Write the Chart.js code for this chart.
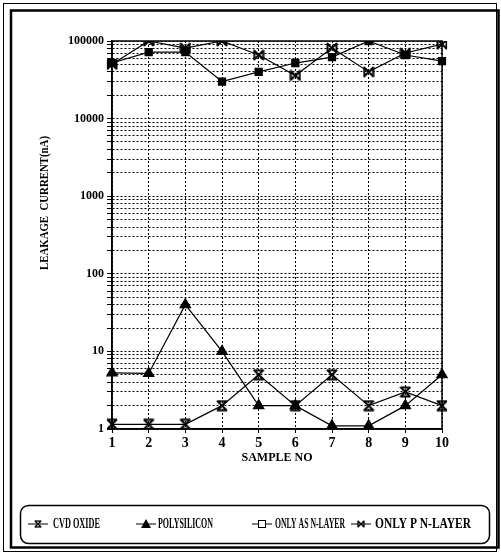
<!DOCTYPE html>
<html>
<head>
<meta charset="utf-8">
<script src="https://cdn.jsdelivr.net/npm/chart.js@4/dist/chart.umd.min.js"></script>
<style>
html,body{margin:0;padding:0;background:#fff;}
#wrap{position:relative;width:501px;height:553px;}
</style>
</head>
<body>
<div id="wrap"><canvas id="c" width="501" height="553"></canvas></div>
<script>
// ---- data ----
const categories = ['1','2','3','4','5','6','7','8','9','10'];
const seriesNames = ['CVD OXIDE','POLYSILICON','ONLY AS N-LAYER','ONLY P N-LAYER'];
const cvdOxide    = [1.15, 1.15, 1.15, 2, 5, 2, 5, 2, 3, 2];
const polysilicon = [5.3, 5.2, 40, 10, 2, 2, 1.1, 1.1, 2, 5];
const onlyAsN     = [52000, 72000, 72000, 30000, 40000, 52000, 62000, 100000, 66000, 55000];
const onlyPN      = [50000, 100000, 81000, 100000, 66000, 36000, 81000, 40000, 70000, 91000];
const yTickValues = [1,10,100,1000,10000,100000];
const yTitle = 'LEAKAGE  CURRENT(nA)';
const xTitle = 'SAMPLE NO';

const FONT = '"Liberation Serif", "DejaVu Serif", serif';

function makeMarker(kind, size){
  const c = document.createElement('canvas');
  c.width = size; c.height = size;
  const g = c.getContext('2d');
  g.strokeStyle = '#000'; g.fillStyle = '#000'; g.lineWidth = 2;
  const s = size, m = 1;
  if (kind === 'hourglass') {
    g.beginPath();
    g.moveTo(m, m); g.lineTo(s-m, s-m);
    g.moveTo(s-m, m); g.lineTo(m, s-m);
    g.moveTo(m, m+0.5); g.lineTo(s-m, m+0.5);
    g.moveTo(m, s-m-0.5); g.lineTo(s-m, s-m-0.5);
    g.stroke();
  } else if (kind === 'bowtie') {
    g.beginPath();
    g.moveTo(m, m); g.lineTo(s-m, s-m);
    g.moveTo(s-m, m); g.lineTo(m, s-m);
    g.moveTo(m+0.5, m); g.lineTo(m+0.5, s-m);
    g.moveTo(s-m-0.5, m); g.lineTo(s-m-0.5, s-m);
    g.stroke();
  }
  return c;
}
const mkCvd = makeMarker('hourglass', 12);
const mkP = makeMarker('bowtie', 12);

function fitText(g, text, x, y, w){
  const nat = g.measureText(text).width;
  const k = w / nat;
  g.save();
  g.translate(x, y);
  g.scale(k, 1);
  g.fillText(text, 0, 0);
  g.restore();
}

const framePlugin = {
  id: 'frame',
  beforeDraw(chart){
    const g = chart.ctx;
    g.save();
    g.fillStyle = '#fff';
    g.fillRect(0,0,chart.width,chart.height);
    g.strokeStyle = '#000';
    g.lineWidth = 1;
    g.strokeRect(3.5, 3.5, 493, 548);
    g.lineWidth = 2.5;
    g.strokeRect(11, 10.5, 487.5, 537);
    g.restore();
  },
  afterDraw(chart){
    const g = chart.ctx;
    const a = chart.chartArea;
    g.save();
    g.strokeStyle = '#000';
    g.lineWidth = 1.5;
    g.strokeRect(a.left, a.top, a.right - a.left, a.bottom - a.top);
    // y-axis title
    g.translate(45, 203);
    g.rotate(-Math.PI/2);
    g.font = 'bold 13px ' + FONT;
    g.fillStyle = '#000';
    g.textAlign = 'center';
    g.textBaseline = 'middle';
    g.fillText(yTitle, 0, 0, 134);
    g.restore();

    // legend
    g.save();
    g.strokeStyle = '#000';
    g.lineWidth = 1.5;
    g.beginPath();
    g.roundRect(20.5, 505.5, 469, 38, 8);
    g.stroke();
    const ly = 524;
    const items = [
      {x0: 28, tx: 53, w: 47},
      {x0: 136, tx: 158, w: 55},
      {x0: 252, tx: 275, w: 70},
      {x0: 351, tx: 375, w: 96}
    ];
    g.font = 'bold 14px ' + FONT;
    g.textBaseline = 'middle';
    g.textAlign = 'left';
    g.fillStyle = '#000';
    chart.data.datasets.forEach((ds, i) => {
      const it = items[i];
      const cx = it.x0 + 10;
      g.lineWidth = 1;
      g.beginPath();
      g.moveTo(it.x0, ly); g.lineTo(it.x0 + 20, ly);
      g.stroke();
      if (i === 0) g.drawImage(mkCvd, cx-4, ly-4, 8, 8);
      else if (i === 3) g.drawImage(mkP, cx-4, ly-4, 8, 8);
      else if (i === 1) {
        g.beginPath(); g.moveTo(cx, ly-5); g.lineTo(cx+5, ly+4); g.lineTo(cx-5, ly+4); g.closePath(); g.fill();
      } else {
        g.fillStyle = '#fff';
        g.fillRect(cx-3.5, ly-3.5, 7, 7);
        g.strokeRect(cx-3.5, ly-3.5, 7, 7);
        g.fillStyle = '#000';
      }
      fitText(g, ds.label, it.tx, ly, it.w);
    });
    g.restore();
  }
};

const common = {borderColor:'#000', backgroundColor:'#000', borderWidth:1.2, tension:0, pointBorderColor:'#000', pointBackgroundColor:'#000'};

new Chart(document.getElementById('c'), {
  type: 'line',
  data: {
    labels: categories,
    datasets: [
      Object.assign({label: seriesNames[0], data: cvdOxide, pointStyle: mkCvd}, common),
      Object.assign({label: seriesNames[1], data: polysilicon, pointStyle: 'triangle', pointRadius: 6}, common),
      Object.assign({label: seriesNames[2], data: onlyAsN, pointStyle: 'rect', pointRadius: 5}, common),
      Object.assign({label: seriesNames[3], data: onlyPN, pointStyle: mkP}, common)
    ]
  },
  options: {
    responsive: false,
    animation: false,
    devicePixelRatio: 1,
    layout: {padding: {left: 0, right: 59, top: 41, bottom: 89}},
    plugins: {legend: {display: false}, tooltip: {enabled: false}},
    scales: {
      x: {
        offset: false,
        grid: {color: '#000', lineWidth: 1, tickLength: 4, drawTicks: true},
        border: {display: true, color: '#000', width: 1.5, dash: [2,2]},
        ticks: {color: '#000', font: {family: FONT, size: 14, weight: 'bold', lineHeight: 0.7}, padding: 5, maxRotation: 0},
        title: {display: true, text: xTitle, color: '#000', font: {family: FONT, size: 12, weight: 'bold', lineHeight: 1}, padding: {top: 1, bottom: 0}},
        afterFit(s){ s.height = 35; }
      },
      y: {
        type: 'logarithmic',
        min: 1, max: 100000,
        afterBuildTicks(s){
          const t = [];
          for (let k = 0; k < yTickValues.length; k++) {
            const base = yTickValues[k];
            const lim = (k === yTickValues.length - 1) ? 1 : 9;
            for (let j = 1; j <= lim; j++) t.push({value: base * j});
          }
          s.ticks = t;
        },
        grid: {color: '#000', lineWidth: 1, tickLength: 5},
        border: {display: true, color: '#000', width: 1.5, dash: [2,2]},
        ticks: {
          color: '#000', autoSkip: false, padding: 3,
          font: {family: FONT, size: 12, weight: 'bold'},
          callback(v){ return yTickValues.includes(v) ? String(v) : ''; }
        },
        afterFit(s){ s.width = 112; }
      }
    }
  },
  plugins: [framePlugin]
});
</script>
</body>
</html>
